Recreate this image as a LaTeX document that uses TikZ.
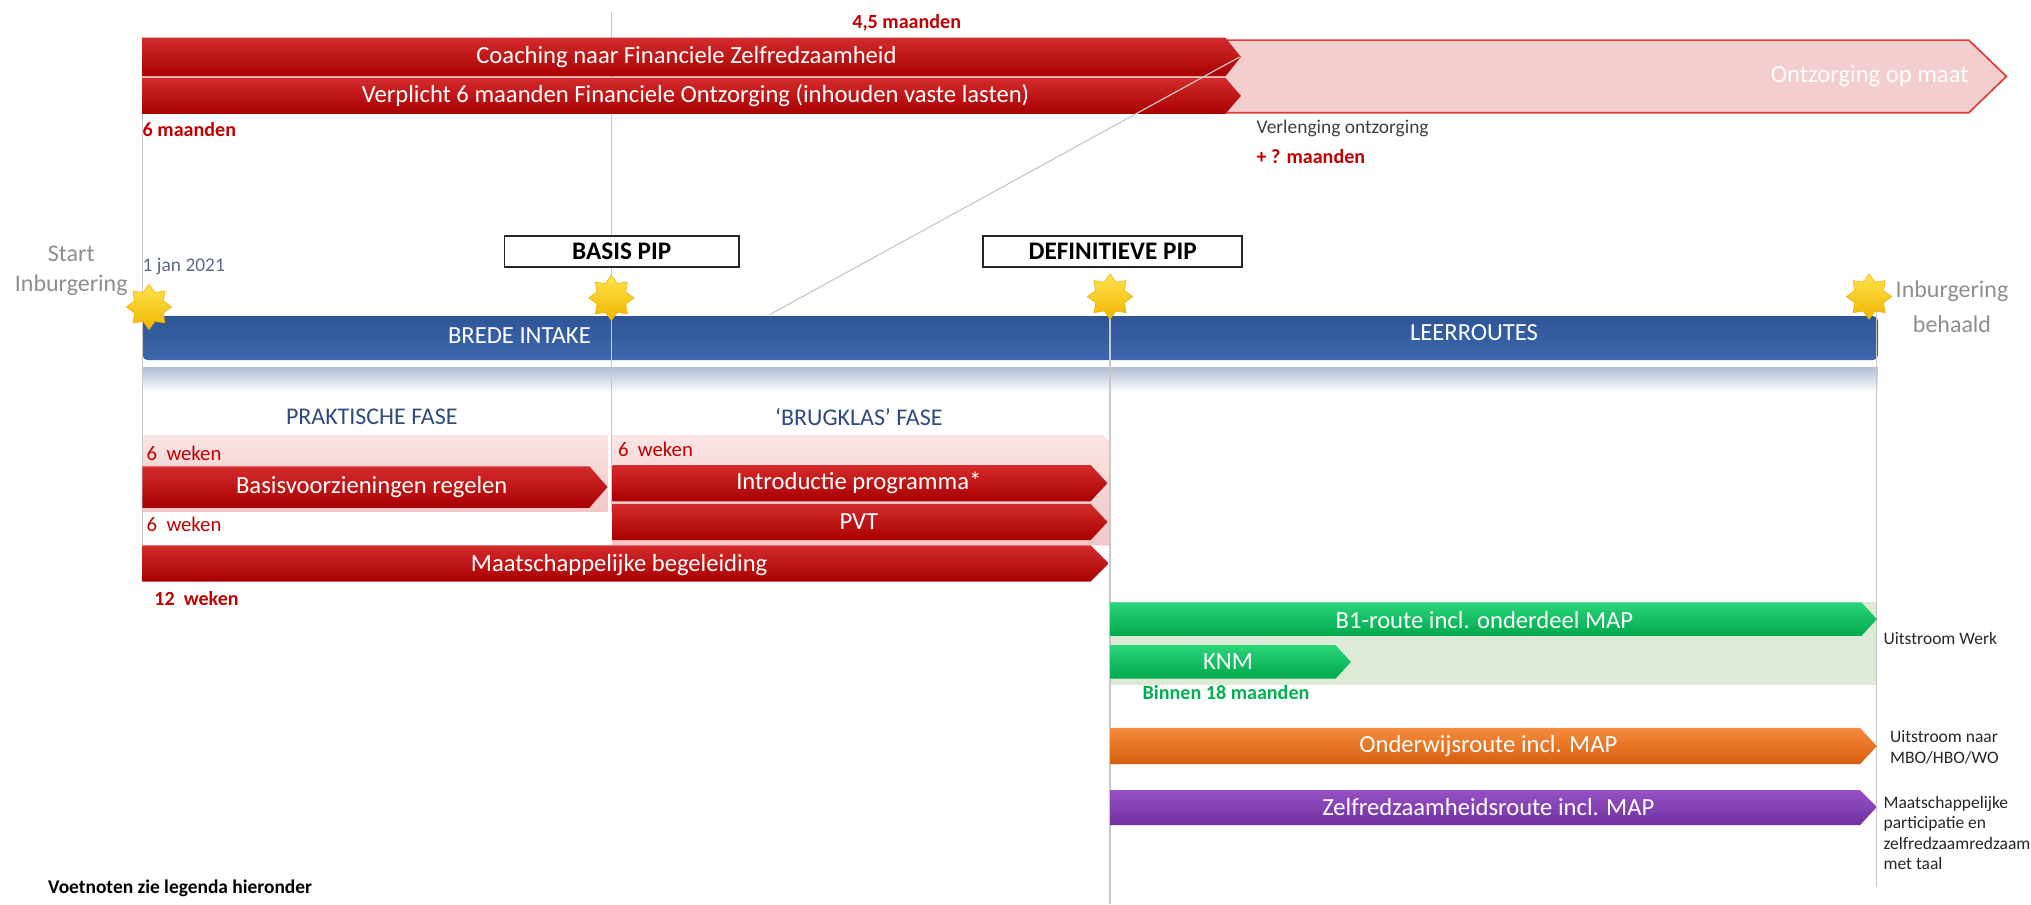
\documentclass[tikz,border=0pt]{standalone}
\usepackage{fontspec}
\setmainfont{Carlito}
\usetikzlibrary{shapes.geometric}

\definecolor{redtop}{HTML}{D42C2C}
\definecolor{redbot}{HTML}{A80000}
\definecolor{pinkfill}{HTML}{F4CECE}
\definecolor{pinkline}{HTML}{E03C3C}
\definecolor{pinktop}{HTML}{FBE4E4}
\definecolor{pinkbot}{HTML}{F2C6C6}
\definecolor{bluetop}{HTML}{2E5596}
\definecolor{bluebot}{HTML}{3D67AE}
\definecolor{shadowblue}{HTML}{B3BFD5}
\definecolor{greentop}{HTML}{2BD57A}
\definecolor{greenbot}{HTML}{00A84C}
\definecolor{greenlight}{HTML}{DDEBD6}
\definecolor{orangetop}{HTML}{F68B3C}
\definecolor{orangebot}{HTML}{D65F0E}
\definecolor{purpletop}{HTML}{9652C4}
\definecolor{purplebot}{HTML}{7030A0}
\definecolor{labelred}{HTML}{C00000}
\definecolor{labelgreen}{HTML}{00B050}
\definecolor{greytext}{HTML}{8E8E8E}
\definecolor{slate}{HTML}{5A6A84}
\definecolor{navy}{HTML}{2F4A7E}
\definecolor{guide}{HTML}{C8C8C8}
\definecolor{startop}{HTML}{FFE44D}
\definecolor{starbot}{HTML}{EFB400}

\begin{document}
\begin{tikzpicture}[x=1pt,y=-1pt]
	\tikzstyle{red bar}=[top color=redtop, bottom color=redbot]
	\tikzstyle{green bar}=[top color=greentop, bottom color=greenbot]
	\tikzstyle{orange bar}=[top color=orangetop, bottom color=orangebot]
	\tikzstyle{purple bar}=[top color=purpletop, bottom color=purplebot]
	\tikzstyle{pink box}=[top color=pinktop, bottom color=pinkbot]
	\tikzstyle{guide line}=[draw=guide, line width=0.9pt]
	\tikzstyle{bar text}=[text=white, inner sep=0pt, font=\fontsize{19}{22}\selectfont]
	\tikzstyle{phase text}=[text=navy, inner sep=0pt, font=\fontsize{18.5}{22}\selectfont]
	\tikzstyle{week label}=[text=labelred, inner sep=0pt, anchor=west, font=\fontsize{16}{18}\selectfont]
	\tikzstyle{month label}=[text=labelred, inner sep=0pt, font=\bfseries\fontsize{15.5}{18}\selectfont]
	\tikzstyle{side label}=[text=black!85, inner sep=0pt, anchor=west, align=left, font=\fontsize{13.5}{15.7}\selectfont]
	\tikzstyle{pip box}=[draw=black!85, line width=1.2pt, fill=white, inner sep=0pt,
		minimum height=24, font=\bfseries\fontsize{19.5}{22}\selectfont]
	\tikzstyle{milestone}=[star, star points=8, star point ratio=1.45, minimum size=35,
		inner sep=0pt, top color=startop, bottom color=starbot, draw=starbot!85!orange, line width=0.4pt]

	\useasboundingbox (0,0) rectangle (1568,698);

	% achtergrond vlakken
	\shade[pink box] (110,336) rectangle (469,395);
	\shade[pink box] (473,336) -- (852,336) -- (856,340) -- (856,421) -- (473,421) -- cycle;
	\fill[greenlight] (857,465) rectangle (1449,529);
	\shade[top color=shadowblue, bottom color=white] (110,284) rectangle (1450,303);

	% tijdlijn
	\shade[top color=bluetop, bottom color=bluebot, rounded corners=4] (110,244) rectangle (1450,278);

	% hulplijnen
	\draw[guide line] (110,88) -- (110,421);
	\draw[guide line] (472,9) -- (472,395);
	\draw[guide line] (857,229) -- (857,698);
	\draw[guide line] (1449,231) -- (1449,685);

	% ontzorging
	\fill[pinkfill] (946,31) -- (1520,31) -- (1549,59) -- (1520,87) -- (946,87) -- cycle;
	\draw[pinkline, line width=1.3pt] (946,31) -- (1520,31) -- (1549,59) -- (1520,87) -- (946,87);
	\shade[red bar] (110,29) -- (946,29) -- (958,44) -- (946,59) -- (110,59) -- cycle;
	\shade[red bar] (110,60) -- (946,60) -- (958,74) -- (946,88) -- (110,88) -- cycle;

	% brede intake
	\shade[red bar] (110,360) -- (455,360) -- (469,376) -- (455,392) -- (110,392) -- cycle;
	\shade[red bar] (473,359) -- (842,359) -- (855,373) -- (842,387) -- (473,387) -- cycle;
	\shade[red bar] (473,389) -- (842,389) -- (855,403) -- (842,417) -- (473,417) -- cycle;
	\shade[red bar] (110,421) -- (842,421) -- (856,435) -- (842,449) -- (110,449) -- cycle;

	% leerroutes
	\shade[green bar] (857,465) -- (1437,465) -- (1449,478) -- (1437,491) -- (857,491) -- cycle;
	\shade[green bar] (857,498) -- (1031,498) -- (1043,511) -- (1031,524) -- (857,524) -- cycle;
	\shade[orange bar] (857,562) -- (1436,562) -- (1449,576) -- (1436,590) -- (857,590) -- cycle;
	\shade[purple bar] (857,610) -- (1436,610) -- (1449,623) -- (1436,637) -- (857,637) -- cycle;

	\draw[guide line] (957,44) -- (594,243);

	% PIP momenten
	\node[pip box, minimum width=181] (basispip) at (480,194) {BASIS PIP};
	\node[pip box, minimum width=200] (defpip) at (859,194) {DEFINITIEVE PIP};

	\node[milestone] (ster1) at (115,237) {};
	\node[milestone] (ster2) at (472,230) {};
	\node[milestone] (ster3) at (857,229) {};
	\node[milestone] (ster4) at (1443,229) {};

	% teksten
	\node[month label] (duur45) at (700,18) {4,5 maanden};
	\node[bar text] (coaching) at (530,44) {Coaching naar Financiele Zelfredzaamheid};
	\node[bar text] (verplicht) at (537,74) {Verplicht 6 maanden Financiele Ontzorging (inhouden vaste lasten)};
	\node[bar text, anchor=east] (opmaat) at (1520,59) {Ontzorging op maat};
	\node[month label, anchor=west] (duur6) at (110,100) {6 maanden};
	\node[text=black!75, inner sep=0pt, anchor=west, font=\fontsize{15}{18}\selectfont] (verlenging) at (970,99) {Verlenging ontzorging};
	\node[month label, anchor=west] (extra) at (970,121) {+ ? maanden};

	\node[text=greytext, inner sep=0pt, align=center, font=\fontsize{18.5}{23}\selectfont] (start) at (55,209) {Start\\Inburgering};
	\node[text=slate, inner sep=0pt, anchor=west, font=\fontsize{15}{18}\selectfont] (datum) at (110,206) {1 jan 2021};
	\node[text=greytext, inner sep=0pt, align=center, font=\fontsize{18.5}{27}\selectfont] (behaald) at (1507,237) {Inburgering\\behaald};

	\node[bar text] (intake) at (401,259) {BREDE INTAKE};
	\node[bar text] (leerroutes) at (1138,257) {LEERROUTES};

	\node[phase text] (praktisch) at (287,322) {PRAKTISCHE FASE};
	\node[phase text] (brugklas) at (663,322) {‘BRUGKLAS’ FASE};

	\node[week label] (weken1) at (113,350) {6\ \ weken};
	\node[week label] (weken2) at (477,347) {6\ \ weken};
	\node[week label] (weken3) at (113,405) {6\ \ weken};
	\node[week label, font=\bfseries\fontsize{15.5}{18}\selectfont] (weken4) at (119,462) {12\ \ weken};

	\node[bar text] (basis) at (287,376) {Basisvoorzieningen regelen};
	\node[bar text] (intro) at (663,373) {Introductie programma*};
	\node[bar text] (pvt) at (663,403) {PVT};
	\node[bar text] (begeleiding) at (478,436) {Maatschappelijke begeleiding};

	\node[bar text] (b1) at (1146,479) {B1-route incl. onderdeel MAP};
	\node[bar text] (knm) at (948,511) {KNM};
	\node[text=labelgreen, inner sep=0pt, anchor=west, font=\bfseries\fontsize{15.5}{18}\selectfont] (binnen) at (882,535) {Binnen 18 maanden};
	\node[bar text] (onderwijs) at (1149,576) {Onderwijsroute incl. MAP};
	\node[bar text] (zelf) at (1149,623) {Zelfredzaamheidsroute incl. MAP};

	\node[side label] (werk) at (1454,493) {Uitstroom Werk};
	\node[side label] (mbo) at (1459,577) {Uitstroom naar\\MBO/HBO/WO};
	\node[side label] (participatie) at (1454,643) {Maatschappelijke\\participatie en\\zelfredzaamredzaam\\met taal};

	\node[inner sep=0pt, anchor=west, font=\bfseries\fontsize{15}{18}\selectfont] (voetnoten) at (37,686) {Voetnoten zie legenda hieronder};
\end{tikzpicture}
\end{document}
